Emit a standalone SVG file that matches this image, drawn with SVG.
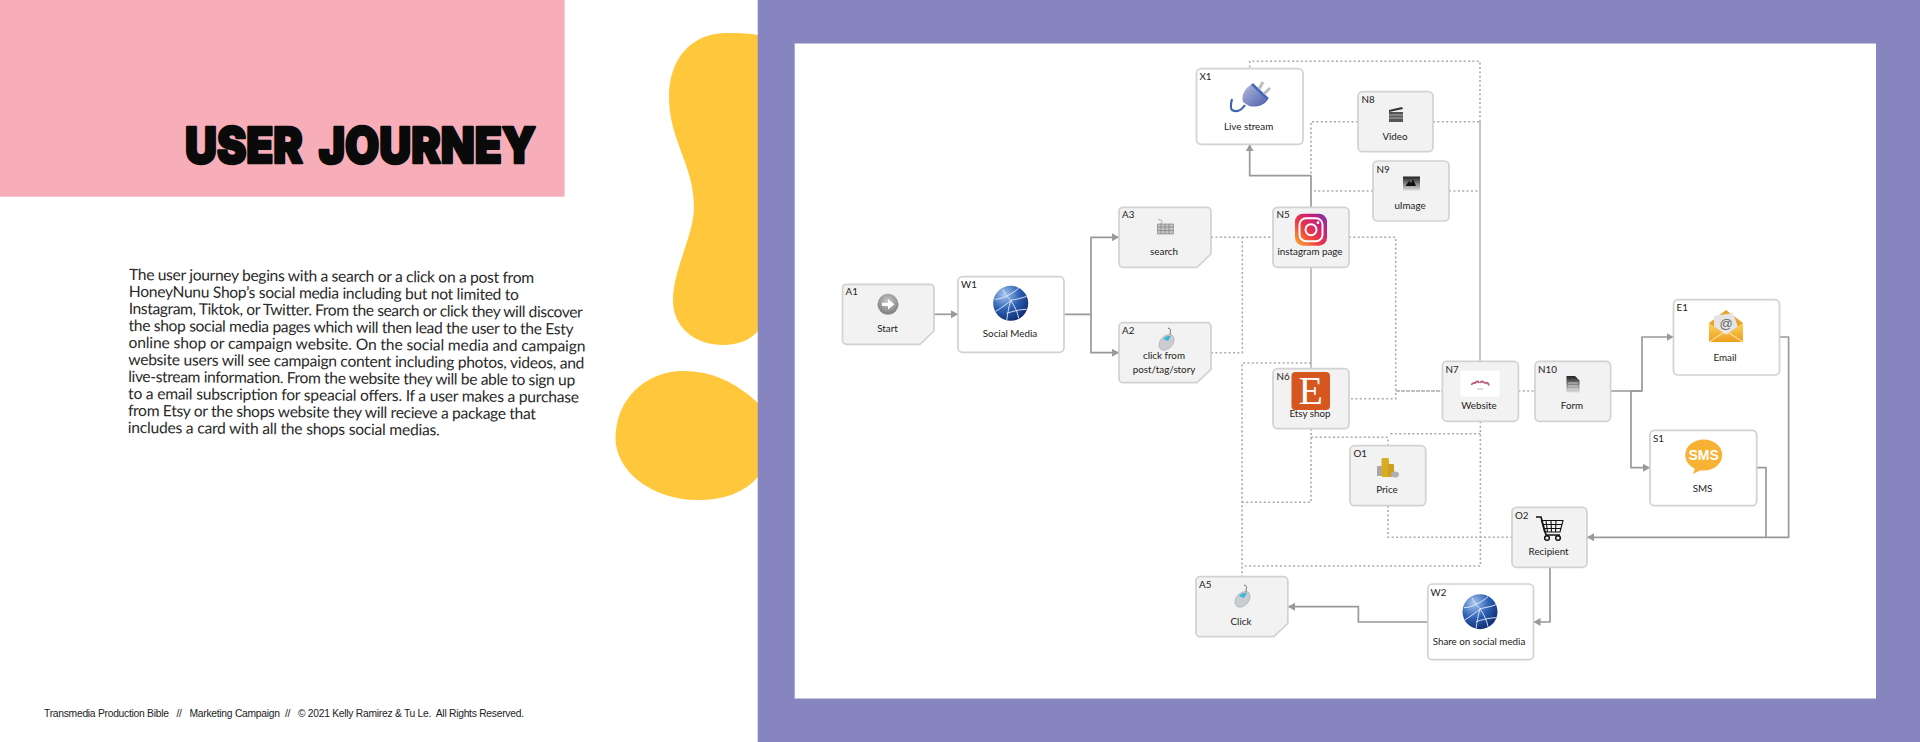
<svg xmlns="http://www.w3.org/2000/svg" width="1920" height="742" viewBox="0 0 1920 742">
<style>
.box{fill:#f2f2f2;stroke:#d2d2d2;stroke-width:1.7}
.wbox{fill:#fff;stroke:#d2d2d2;stroke-width:1.7}
.t{font-family:"Lato","Noto Sans",sans-serif;font-size:9.8px;fill:#222;text-anchor:middle}
.id{font-family:"Lato","Noto Sans",sans-serif;font-size:9.8px;fill:#222}
.a{fill:none;stroke:#999;stroke-width:1.7;stroke-linejoin:round}
.s{fill:none;stroke:#b0b0b0;stroke-width:1.5}
.d{fill:none;stroke:#aaa;stroke-width:1.6;stroke-dasharray:2 2.4}
.dd{fill:none;stroke:#aaa;stroke-width:1.6;stroke-dasharray:4 1}
.body{font-family:"Lato","Open Sans",sans-serif;font-size:15.6px;fill:#2a2a2a}
</style>
<defs>
<marker id="arr" markerUnits="userSpaceOnUse" markerWidth="10" markerHeight="10" refX="7" refY="4" orient="auto"><path d="M0 0L7 4L0 8Z" fill="#999"/></marker>
<radialGradient id="gl" cx=".32" cy=".25" r=".85"><stop offset="0" stop-color="#a8c6ee"/><stop offset=".5" stop-color="#2f62b5"/><stop offset="1" stop-color="#0c2468"/></radialGradient>
<linearGradient id="ig" x1="0" y1="1" x2="1" y2="0"><stop offset="0" stop-color="#fdb42e"/><stop offset=".4" stop-color="#ee3a42"/><stop offset=".75" stop-color="#c41e80"/><stop offset="1" stop-color="#6a3ab0"/></linearGradient>
<linearGradient id="pl" x1="0" y1="0" x2="1" y2="1"><stop offset="0" stop-color="#b4bde0"/><stop offset="1" stop-color="#4b5ca8"/></linearGradient>
<radialGradient id="ball" cx=".5" cy=".35" r=".7"><stop offset="0" stop-color="#c8c8c8"/><stop offset="1" stop-color="#777"/></radialGradient>
<linearGradient id="env" x1="0" y1="0" x2="0" y2="1"><stop offset="0" stop-color="#fbd25a"/><stop offset="1" stop-color="#ef9f1f"/></linearGradient>
<linearGradient id="gr" x1="0" y1="0" x2="0" y2="1"><stop offset="0" stop-color="#222"/><stop offset="1" stop-color="#ddd"/></linearGradient>
<g id="globe"><circle r="17.500" fill="url(#gl)"/><path d="M-16 -4C-8 -4 2 -10 8 -15M-15 8C-8 4 -2 -1 0 -3C4 3 7 9 8 15M0 -3C-2 4 -3 10 -4 17M0 -3C5 -4 11 -5 16 -7M-8 -14C-5 -8 -2 -5 0 -3M-4 10C2 8 10 6 16 6" fill="none" stroke="#e4ecfb" stroke-width=".9"/></g>
<g id="mouse"><path d="M2 -12C8 -10 1 -7 6 -4" fill="none" stroke="#666" stroke-width="1"/><path d="M-7 4C-6 -3 2 -7 6 -5C10 -2 8 6 2 9C-3 12 -8 9 -7 4Z" fill="#c9ccd0" stroke="#9a9a9a" stroke-width=".5"/><path d="M-3 -1C-1 -4 3 -5 5 -4L2 1Z" fill="#3fb5d8"/></g>
</defs>
<rect width="1920" height="742" fill="#fff"/>
<g id="decoration">
<rect width="564.600" height="196.700" fill="#f7aeb9"/>
<path d="M758 35C745 33 735 33 727 33C690 33 669 60 669 97C669 140 694 165 694 207C694 235 673 270 673 300C673 330 698 345 723 345C738 345 750 340 758 331Z" fill="#ffc73c"/>
<path d="M758 403C735 382 712 371 683 371C645 371 615.500 400 615.500 438C615.500 470 650 500 698 500C725 500 745 492 758 477Z" fill="#ffc73c"/>
<rect x="757.700" width="1162.300" height="742" fill="#8785c0"/>
<rect x="794.700" y="43.500" width="1081.300" height="655" fill="#fff"/>
</g>
<text id="title" x="185" y="163" font-family="Inter,'Liberation Sans',sans-serif" font-weight="900" font-size="50" fill="#0a0a0a" stroke="#0a0a0a" stroke-width="2.500" stroke-linejoin="round" textLength="351" lengthAdjust="spacingAndGlyphs" word-spacing="8">USER JOURNEY</text>
<g id="body-text" class="body" transform="rotate(.45 129 280)">
<text x="129" y="280" textLength="405">The user journey begins with a search or a click on a post from</text>
<text x="129" y="297" textLength="390">HoneyNunu Shop’s social media including but not limited to</text>
<text x="129" y="314" textLength="454">Instagram, Tiktok, or Twitter. From the search or click they will discover</text>
<text x="129" y="331" textLength="445">the shop social media pages which will then lead the user to the Esty</text>
<text x="129" y="348" textLength="457">online shop or campaign website. On the social media and campaign</text>
<text x="129" y="365" textLength="456">website users will see campaign content including photos, videos, and</text>
<text x="129" y="382" textLength="447">live-stream information. From the website they will be able to sign up</text>
<text x="129" y="399" textLength="451">to a email subscription for speacial offers. If a user makes a purchase</text>
<text x="129" y="416" textLength="408">from Etsy or the shops website they will recieve a package that</text>
<text x="129" y="433" textLength="312">includes a card with all the shops social medias.</text>
</g>
<text id="footer" x="44" y="717" font-family="'Liberation Sans',Arial,sans-serif" font-size="10.300" fill="#222" xml:space="preserve" textLength="480">Transmedia Production Bible   //   Marketing Campaign  //   © 2021 Kelly Ramirez &amp; Tu Le.  All Rights Reserved.</text>

<g id="connectors">
<path class="a" marker-end="url(#arr)" d="M934 314.300H958"/>
<path class="a" marker-end="url(#arr)" d="M1064 314.300H1091V237.300H1119"/>
<path class="a" marker-end="url(#arr)" d="M1091 314.300V352.700H1119"/>
<path class="a" marker-end="url(#arr)" d="M1311 207V175.700H1249.700V144.300"/>
<path class="s" d="M1311 267V368.700"/>
<path class="s" d="M1480 361V121.700"/>
<path class="dd" d="M1396 391H1442"/>
<path class="a" marker-end="url(#arr)" d="M1610.600 391H1642V337H1673.500"/>
<path class="a" marker-end="url(#arr)" d="M1642 391H1631V467.700H1650"/>
<path class="a" marker-end="url(#arr)" d="M1779.600 337H1788.600V537.300H1587"/>
<path class="a" d="M1756.700 467.700H1766V537.300"/>
<path class="a" marker-end="url(#arr)" d="M1550 567.300V622H1533.500"/>
<path class="a" marker-end="url(#arr)" d="M1428 622H1358.400V606.700H1288"/>
<path class="d" d="M1211 237.300H1273"/>
<path class="d" d="M1211 352.700H1242.300V237.300"/>
<path class="d" d="M1358 121.700H1311V175"/>
<path class="d" d="M1373 191H1314"/>
<path class="d" d="M1433 121.700H1480"/>
<path class="d" d="M1449 191H1480"/>
<path class="d" d="M1480 121.700V61.300H1249.700V68.700"/>
<path class="d" d="M1349 237.300H1395.700V398.700H1349"/>
<path class="d" d="M1518.400 391H1535"/>
<path class="d" d="M1311 363H1242V576.700"/>
<path class="d" d="M1311 428.700V502.300H1242"/>
<path class="d" d="M1311 437.300H1388V445.700"/>
<path class="d" d="M1480.400 421.300V566H1242"/>
<path class="d" d="M1480.400 433.700H1388"/>
<path class="d" d="M1388 505.700V537.300H1512"/>
</g>

<g id="A1"><path class="box" d="M846.500 284.300H930a4 4 0 0 1 4 4V331L920 344.300H846.500a4 4 0 0 1 -4 -4V288.300a4 4 0 0 1 4 -4Z"/><text class="id" x="845.500" y="295">A1</text>
<circle cx="888" cy="304.300" r="10.500" fill="url(#ball)"/><path d="M882 302.700H888V299L894.500 304.300L888 309.600V305.900H882Z" fill="#fff"/><text class="t" x="887.500" y="332">Start</text></g>
<g id="W1"><rect class="wbox" x="958" y="276.700" width="106" height="75.600" rx="4.500"/><text class="id" x="961" y="288">W1</text><use href="#globe" x="1010.700" y="303.300"/><text class="t" x="1010" y="337">Social Media</text></g>
<g id="A3"><path class="box" d="M1123 207.300H1207a4 4 0 0 1 4 4V254L1197 267.300H1123a4 4 0 0 1 -4 -4V211.300a4 4 0 0 1 4 -4Z"/><text class="id" x="1122" y="218">A3</text>
<path d="M1157.500 224h16v10h-16z" fill="#c4c4c4" stroke="#777" stroke-width=".6"/><path d="M1157.500 227h16M1157.500 230.500h16M1161 224v10M1165 224v10M1169 224v10M1161 224C1161 221 1165 222 1158 219" fill="none" stroke="#777" stroke-width=".6"/><text class="t" x="1164" y="254.500">search</text></g>
<g id="A2"><path class="box" d="M1123 322.700H1207a4 4 0 0 1 4 4V369.400L1197 382.700H1123a4 4 0 0 1 -4 -4V326.700a4 4 0 0 1 4 -4Z"/><text class="id" x="1122" y="333.500">A2</text><use href="#mouse" x="1166" y="340"/><text class="t" x="1164" y="359.300">click from</text><text class="t" x="1164" y="372.700">post/tag/story</text></g>
<g id="X1"><rect class="wbox" x="1196.500" y="68.700" width="106.500" height="75.600" rx="4.500"/><text class="id" x="1199.500" y="80">X1</text>
<path d="M1252 84L1268 99C1265 105 1257 108 1249 106L1243 102C1241 95 1245 88 1252 84Z" fill="url(#pl)"/><path d="M1252 84L1268 99" stroke="#3f66b8" stroke-width="2.400"/><path d="M1259 89L1263 82M1264 94L1270 88" stroke="#bdbdbd" stroke-width="3" fill="none"/><path d="M1245 105C1241 111 1236 112 1232 110C1230 108 1231 103 1232 99" fill="none" stroke="#3d62ae" stroke-width="2.200"/><text class="t" x="1248.600" y="130">Live stream</text></g>
<g id="N5"><rect class="box" x="1273" y="207.300" width="76" height="60" rx="4.500"/><text class="id" x="1276.500" y="218">N5</text>
<rect x="1295" y="213.700" width="32" height="32" rx="8" fill="url(#ig)"/><rect x="1299.500" y="218.200" width="23" height="23" rx="6.500" fill="none" stroke="#fff" stroke-width="2"/><circle cx="1311" cy="229.700" r="5.500" fill="none" stroke="#fff" stroke-width="2"/><circle cx="1318" cy="222.700" r="1.400" fill="#fff"/><text class="t" x="1310" y="255">instagram page</text></g>
<g id="N8"><rect class="box" x="1358" y="91.700" width="75" height="60" rx="4.500"/><text class="id" x="1361.500" y="103">N8</text>
<rect x="1389" y="112" width="14" height="10" fill="#555"/><path d="M1389 110L1402 107L1403 109L1389 112Z" fill="#333"/><path d="M1389 115H1403M1389 118H1403" stroke="#ccc" stroke-width=".8"/><text class="t" x="1395" y="139.700">Video</text></g>
<g id="N9"><rect class="box" x="1373" y="161" width="76" height="60" rx="4.500"/><text class="id" x="1376.500" y="172.500">N9</text>
<rect x="1403" y="176.500" width="17" height="14" fill="url(#gr)"/><path d="M1405.500 186L1409 181L1411 183L1413 179.500L1416 186Z" fill="#111"/><text class="t" x="1410" y="209">uImage</text></g>
<g id="N6"><rect class="box" x="1273" y="368.700" width="76" height="60" rx="4.500"/><text class="id" x="1276.500" y="380">N6</text>
<rect x="1291.500" y="372" width="38.500" height="38" rx="4" fill="#d5561f"/><text x="1310.700" y="404" font-family="'Liberation Serif',serif" font-size="40" fill="#fff" text-anchor="middle">E</text><text class="t" x="1310" y="416.700">Etsy shop</text></g>
<g id="N7"><rect class="box" x="1442.400" y="361.300" width="76" height="60" rx="4.500"/><text class="id" x="1445.500" y="372.500">N7</text>
<rect x="1460.500" y="370.700" width="39" height="26" fill="#fff"/><path d="M1471.500 385c.5 -2 3 -3 3.500 -1M1475.500 383c.5 -2 3 -2 3.500 0M1480.500 383c.5 -2 3 -2 3.500 0M1485 384c.5 -2 3 -2 4 1.500" fill="none" stroke="#bb5a78" stroke-width="1.800"/><path d="M1477 389H1483" stroke="#999" stroke-width=".7"/><text class="t" x="1479" y="409">Website</text></g>
<g id="N10"><rect class="box" x="1535" y="361.300" width="75.600" height="60" rx="4.500"/><text class="id" x="1538" y="372.500">N10</text>
<path d="M1566.500 376H1575L1579.500 380.500V392.500H1566.500Z" fill="url(#gr)"/><path d="M1568 383H1578M1568 386H1578M1568 389H1578" stroke="#eee" stroke-width=".7"/><text class="t" x="1572" y="409">Form</text></g>
<g id="E1"><rect class="wbox" x="1673.500" y="299.700" width="106" height="75.300" rx="4.500"/><text class="id" x="1676.500" y="311">E1</text>
<path d="M1709 323L1726 310L1743 323V342H1709Z" fill="#e8a52a"/><path d="M1714 327V316L1733 313L1738 327L1726 335Z" fill="#e4e4e4"/><text x="1726" y="328" font-family="'Liberation Sans',sans-serif" font-size="13" fill="#666" text-anchor="middle">@</text><path d="M1709 323L1726 335L1743 323V342H1709Z" fill="url(#env)"/><path d="M1709 342L1726 331L1743 342" fill="none" stroke="#fff3c0" stroke-width="1"/><text class="t" x="1725" y="360.700">Email</text></g>
<g id="S1"><rect class="wbox" x="1650" y="430.300" width="106.700" height="75.400" rx="4.500"/><text class="id" x="1653" y="441.500">S1</text>
<ellipse cx="1703.700" cy="455" rx="18.500" ry="15.500" fill="#f7b133"/><path d="M1696 465L1693 474L1705 468Z" fill="#f7b133"/><text x="1703.700" y="460" font-family="'Liberation Sans',sans-serif" font-weight="bold" font-size="14" fill="#fff" text-anchor="middle">SMS</text><text class="t" x="1702.500" y="491.700">SMS</text></g>
<g id="O1"><rect class="box" x="1350" y="445.700" width="75.700" height="60" rx="4.500"/><text class="id" x="1353.500" y="457">O1</text>
<rect x="1377" y="466" width="6" height="10" fill="#a8a8a8"/><rect x="1381.500" y="458" width="7.500" height="19" rx="1.500" fill="#d8ac24"/><rect x="1388" y="464" width="6" height="13" rx="1" fill="#cf9f20"/><ellipse cx="1395" cy="474.500" rx="4" ry="3" fill="#b0b0b0"/><text class="t" x="1387" y="493.300">Price</text></g>
<g id="O2"><rect class="box" x="1512" y="507.300" width="75" height="60" rx="4.500"/><text class="id" x="1515" y="518.500">O2</text>
<path d="M1536 517H1541L1546 535H1560" fill="none" stroke="#111" stroke-width="1.600"/><path d="M1541.500 520.500H1563L1560 532H1544.500ZM1546 520.500L1547.500 532M1551 520.500L1551.500 532M1556 520.500L1555.500 532M1543 524.500H1561.500M1544 528.500H1560.500" fill="none" stroke="#111" stroke-width="1.100"/><circle cx="1547" cy="538" r="2.300" fill="none" stroke="#111" stroke-width="1.500"/><circle cx="1558" cy="538" r="2.300" fill="none" stroke="#111" stroke-width="1.500"/><text class="t" x="1548.600" y="555">Recipient</text></g>
<g id="W2"><rect class="wbox" x="1427.800" y="584" width="105.700" height="75.700" rx="4.500"/><text class="id" x="1430.500" y="595.500">W2</text><use href="#globe" x="1480" y="611.700"/><text class="t" x="1479" y="645">Share on social media</text></g>
<g id="A5"><path class="box" d="M1200 576.700H1283.800a4 4 0 0 1 4 4V623.400L1273.800 636.700H1200a4 4 0 0 1 -4 -4V580.700a4 4 0 0 1 4 -4Z"/><text class="id" x="1199" y="587.500">A5</text><use href="#mouse" x="1242" y="597"/><text class="t" x="1241" y="624.500">Click</text></g>
</svg>
